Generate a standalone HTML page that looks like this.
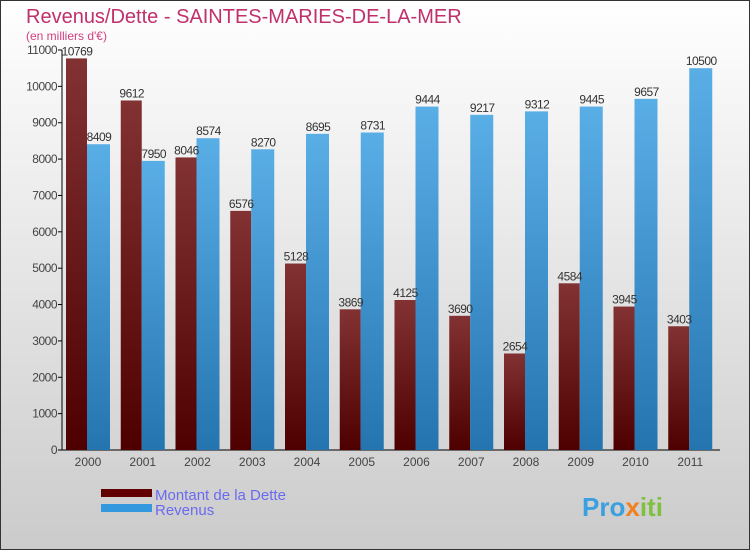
<!DOCTYPE html>
<html><head><meta charset="utf-8"><style>
body{margin:0}
svg{display:block;font-family:"Liberation Sans",sans-serif}
</style></head><body>
<svg width="750" height="550" viewBox="0 0 750 550">
<defs>
<linearGradient id="bg" x1="0" y1="0" x2="0" y2="1"><stop offset="0" stop-color="#ffffff"/><stop offset="1" stop-color="#cbcbcb"/></linearGradient>
<linearGradient id="gd" x1="0" y1="0" x2="0" y2="1"><stop offset="0" stop-color="#823232"/><stop offset="1" stop-color="#4e0000"/></linearGradient>
<linearGradient id="gr" x1="0" y1="0" x2="0" y2="1"><stop offset="0" stop-color="#5aaee6"/><stop offset="1" stop-color="#2474b0"/></linearGradient>
</defs>
<rect x="0.5" y="0.5" width="749" height="549" fill="url(#bg)" stroke="#333"/>
<text x="26" y="23" font-size="20" fill="#c0306a">Revenus/Dette - SAINTES-MARIES-DE-LA-MER</text>
<text x="26" y="40" font-size="12" fill="#d04080">(en milliers d'€)</text>
<g id="axes"></g>
<g id="bars"></g>
<g>
<rect x="101" y="489" width="51" height="8" fill="#600000"/>
<text x="155" y="500" font-size="15" fill="#6a6af0">Montant de la Dette</text>
<rect x="101" y="504" width="51" height="8" fill="#3398dd"/>
<text x="155" y="515" font-size="15" fill="#6a6af0">Revenus</text>
</g>
<text x="582" y="516" font-size="26" font-weight="bold" fill="#3aa0e0">Pro<tspan fill="#f08020">x</tspan><tspan fill="#80c040">iti</tspan></text>
</svg>
<script>
const categories=["2000","2001","2002","2003","2004","2005","2006","2007","2008","2009","2010","2011"];
const dette=[10769,9612,8046,6576,5128,3869,4125,3690,2654,4584,3945,3403];
const revenus=[8409,7950,8574,8270,8695,8731,9444,9217,9312,9445,9657,10500];
const yTicks=[0,1000,2000,3000,4000,5000,6000,7000,8000,9000,10000,11000];
const NS="http://www.w3.org/2000/svg";
const y0=450,yTop=50,yMax=11000;
function y(v){return y0-(v/yMax)*(y0-yTop);}
function xc(i){return 88+i*54.75;}
function mk(tag,attrs,parent,txt){const e=document.createElementNS(NS,tag);for(const k in attrs)e.setAttribute(k,attrs[k]);if(txt!==undefined)e.textContent=txt;parent.appendChild(e);return e;}
const ax=document.getElementById('axes'),bg=document.getElementById('bars');
const yl=mk('line',{x1:62,y1:yTop,x2:62,y2:y0,stroke:'#000'},ax);


const xl=mk('line',{x1:62,y1:y0,x2:720,y2:y0,stroke:'#000'},ax);


yTicks.forEach(t=>{
  mk('line',{x1:58,y1:y(t),x2:62,y2:y(t),stroke:'#000'},ax);
  const tx=mk('text',{x:57,y:y(t)+4,'font-size':12,fill:'#444','text-anchor':'end','letter-spacing':'-0.5'},ax,String(t));
  
  
});
categories.forEach((c,i)=>{
  const cx=xc(i);
  const tx=mk('text',{x:cx,y:466,'font-size':12,fill:'#444','text-anchor':'middle'},ax,c);
  
  
  const b1=mk('rect',{x:cx-22,y:y(dette[i]),width:21,height:y0-y(dette[i]),fill:'url(#gd)'},bg);
  
  
  const b2=mk('rect',{x:cx-1,y:y(revenus[i]),width:23,height:y0-y(revenus[i]),fill:'url(#gr)'},bg);
  
  
  const l1=mk('text',{x:cx-11,y:y(dette[i])-3,'font-size':12,fill:'#333','text-anchor':'middle','letter-spacing':'-0.5'},bg,String(dette[i]));
  
  
  const l2=mk('text',{x:cx+11,y:y(revenus[i])-3,'font-size':12,fill:'#333','text-anchor':'middle','letter-spacing':'-0.5'},bg,String(revenus[i]));
  
  
});
</script>
</body></html>
